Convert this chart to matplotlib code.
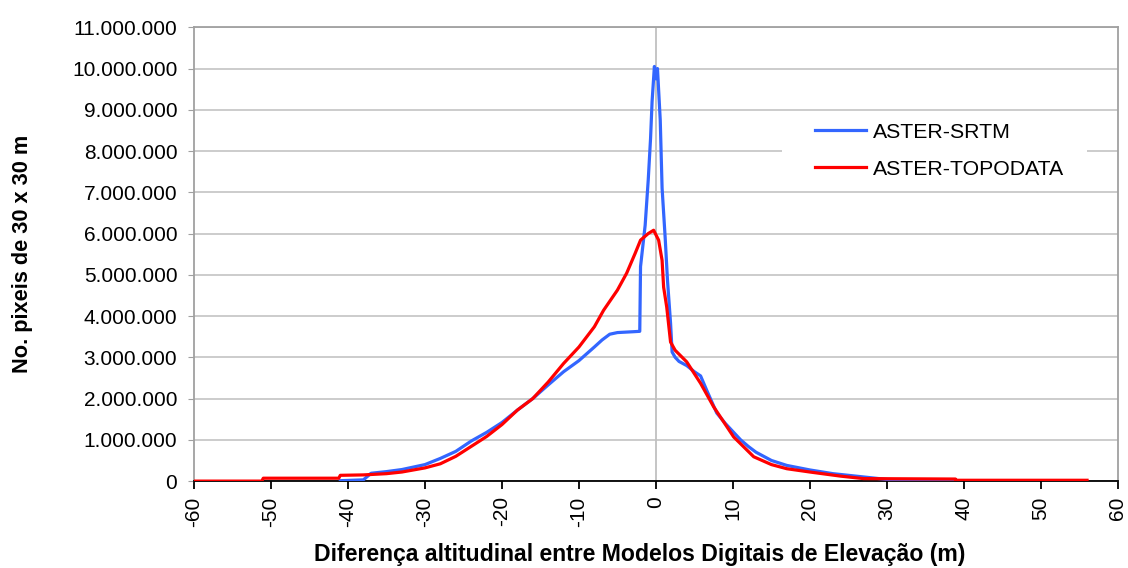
import matplotlib
matplotlib.use("Agg")
import matplotlib.pyplot as plt
from matplotlib.patches import Rectangle
from matplotlib.ticker import FuncFormatter, MultipleLocator

plt.rcParams['font.family'] = ['Liberation Sans', 'DejaVu Sans']
plt.rcParams['axes.unicode_minus'] = False

# ASTER-SRTM difference histogram (millions of pixels)
srtm_x = [-41, -38, -37, -35, -33, -30, -28, -26, -24, -22, -20, -18, -16, -14,
          -12, -10, -8, -7, -6, -5, -4, -3, -2.1, -2.0, -1.4, -1.0, -0.7, -0.5,
          -0.2, 0.0, 0.2, 0.56, 0.8, 1.2, 1.5, 1.9, 2.1, 2.5, 3, 4, 5, 5.8,
          6.6, 7.9, 9, 10, 11, 12, 13, 15, 17, 20, 23, 26, 30, 34, 38.9]
srtm_y = [0.01, 0.03, 0.19, 0.23, 0.28, 0.40, 0.55, 0.72, 0.97, 1.18, 1.42,
          1.72, 2.0, 2.33, 2.65, 2.92, 3.25, 3.42, 3.56, 3.60, 3.61, 3.62, 3.63,
          5.2, 6.2, 7.3, 8.3, 9.2, 10.05, 9.75, 10.0, 8.75, 7.1, 5.9, 4.87,
          3.83, 3.13, 3.0, 2.9, 2.8, 2.65, 2.55, 2.2, 1.65, 1.4, 1.2, 1.0,
          0.84, 0.7, 0.5, 0.38, 0.27, 0.18, 0.12, 0.04, 0.02, 0.01]

# ASTER-TOPODATA difference histogram (millions of pixels)
topo_x = [-60, -51.2, -51, -41.2, -41, -38, -35, -33, -30, -28, -26, -24, -22,
          -20, -18, -16, -14, -12, -10, -8, -6.8, -5, -3.8, -2.7, -2, -1,
          -0.3, 0.35, 0.8, 1.0, 1.4, 1.9, 2.5, 4, 5.8, 7.5, 10.1, 12.7, 15,
          17, 20, 24, 27, 38.9, 39, 56]
topo_y = [0.0, 0.0, 0.07, 0.07, 0.14, 0.15, 0.18, 0.22, 0.32, 0.42, 0.6, 0.84,
          1.08, 1.37, 1.72, 2.0, 2.4, 2.85, 3.25, 3.74, 4.14, 4.63, 5.04, 5.52,
          5.84, 6.0, 6.08, 5.84, 5.35, 4.7, 4.22, 3.37, 3.17, 2.89, 2.37, 1.8,
          1.07, 0.59, 0.4, 0.3, 0.22, 0.12, 0.06, 0.05, 0.02, 0.02]

fig = plt.figure(figsize=(11.28, 5.68), dpi=100)
ax = fig.add_axes([0.172, 0.153, 0.819, 0.799])

ax.plot(srtm_x, [v * 1e6 for v in srtm_y], color='#3366ff', lw=2.3,
        label='ASTER-SRTM', zorder=3)
ax.plot(topo_x, [v * 1e6 for v in topo_y], color='#ff0000', lw=2.3,
        label='ASTER-TOPODATA', zorder=4)

ax.set_xlim(-60, 60)
ax.set_ylim(0, 11e6)
ax.xaxis.set_major_locator(MultipleLocator(10))
ax.yaxis.set_major_locator(MultipleLocator(1e6))
ax.yaxis.set_major_formatter(FuncFormatter(lambda v, p: f"{int(round(v)):,}".replace(",", ".")))

ax.grid(axis='y', color='#c8c8c8', lw=1.3)
ax.axvline(0, color='#c0c0c0', lw=1.3, zorder=1)
ax.set_axisbelow(True)

for s in ['top', 'right', 'left']:
    ax.spines[s].set_color('#a0a0a0')
    ax.spines[s].set_linewidth(1.3)
ax.spines['bottom'].set_color('black')
ax.spines['bottom'].set_linewidth(1.3)

ax.tick_params(axis='x', direction='out', length=6, width=1.3, labelsize=15,
               labelrotation=90, pad=5)
ax.tick_params(axis='y', direction='out', length=4, color='#a0a0a0',
               labelsize=15, pad=8)

ax.set_xlabel('Diferença altitudinal entre Modelos Digitais de Elevação (m)',
              fontsize=16.6, fontweight='bold')
ax.xaxis.set_label_coords(0.482, -0.137)
ax.set_ylabel('No. pixeis de 30 x 30 m', fontsize=15.7, fontweight='bold',
              labelpad=28)

# white legend background hiding the gridline
ax.add_patch(Rectangle((0.637, 0.64), 0.33, 0.17, transform=ax.transAxes,
                       facecolor='white', edgecolor='none', zorder=2))
leg = ax.legend(loc='upper left', bbox_to_anchor=(0.654, 0.827), frameon=False,
                fontsize=15.3, handlelength=2.4, handletextpad=0.3,
                labelspacing=0.85, borderpad=0.3)

fig.savefig('out.png', dpi=100)
